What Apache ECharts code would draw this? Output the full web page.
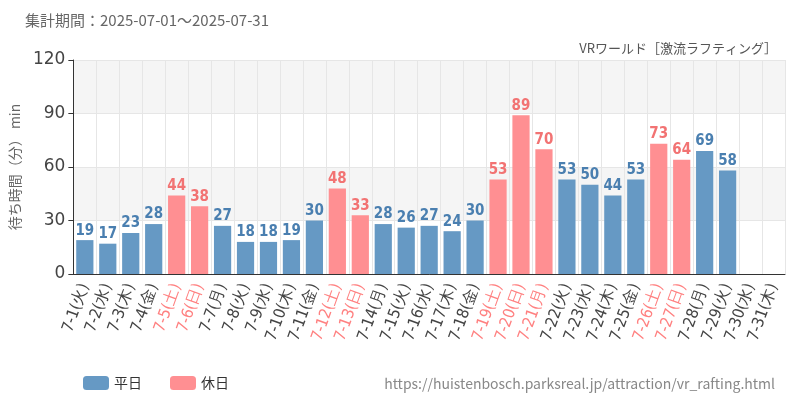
<!DOCTYPE html>
<html><head><meta charset="utf-8">
<script src="https://cdn.jsdelivr.net/npm/echarts@6/dist/echarts.min.js"></script>
<style>html,body{margin:0;background:#fff}#c{width:800px;height:400px}</style>
</head><body><div id="c"></div>
<script>
const days = ['7-1(火)','7-2(水)','7-3(木)','7-4(金)','7-5(土)','7-6(日)','7-7(月)','7-8(火)','7-9(水)','7-10(木)','7-11(金)','7-12(土)','7-13(日)','7-14(月)','7-15(火)','7-16(水)','7-17(木)','7-18(金)','7-19(土)','7-20(日)','7-21(月)','7-22(火)','7-23(水)','7-24(木)','7-25(金)','7-26(土)','7-27(日)','7-28(月)','7-29(火)','7-30(水)','7-31(木)'];
const waits = [19,17,23,28,44,38,27,18,18,19,30,48,33,28,26,27,24,30,53,89,70,53,50,44,53,73,64,69,58,null,null];
const holidays = ['7-5','7-6','7-12','7-13','7-19','7-20','7-21','7-26','7-27'];
const yTicks = [0,30,60,90,120];

const isHol = (d) => holidays.includes(d.split('(')[0]);
const weekday = waits.map((v, i) => (v != null && !isHol(days[i])) ? v : '-');
const holiday = waits.map((v, i) => (v != null && isHol(days[i])) ? v : '-');

const chart = echarts.init(document.getElementById('c'));
const font = 'DejaVu Sans Condensed';
const barLabel = (color) => ({ show: true, position: 'top', color, fontFamily: font, fontWeight: 'bold', fontSize: 15, distance: 2 });

chart.setOption({
    animation: false,
    textStyle: { fontFamily: 'Noto Sans CJK JP' },
    title: [
        { text: '集計期間：2025-07-01～2025-07-31', left: 20, top: 8, textStyle: { fontSize: 15, fontWeight: 'normal', color: '#666' } },
        { text: 'VRワールド［激流ラフティング］', right: 18, top: 37, textStyle: { fontSize: 13, fontWeight: 'normal', color: '#555' } },
        { text: 'https://huistenbosch.parksreal.jp/attraction/vr_rafting.html', right: 20, top: 372, textStyle: { fontSize: 14, fontWeight: 'normal', color: '#888' } }
    ],
    legend: {
        left: 78, top: 371, itemWidth: 26, itemHeight: 14, itemGap: 28,
        textStyle: { fontSize: 14, color: '#333' },
        data: ['平日', '休日']
    },
    grid: { left: 70, right: 15, top: 60, bottom: 126 },
    xAxis: {
        type: 'category', data: days,
        axisLine: { lineStyle: { color: '#333' } },
        axisTick: { alignWithLabel: true, lineStyle: { color: '#333' } },
        splitLine: { show: true, lineStyle: { color: '#e6e6e6' } },
        axisLabel: {
            interval: 0, rotate: 70, margin: 10,
            formatter: (d) => isHol(d) ? `{h|${d}}` : `{w|${d}}`,
            rich: { w: { color: '#444', fontFamily: font, fontSize: 16 }, h: { color: '#ff8080', fontFamily: font, fontSize: 16 } }
        }
    },
    yAxis: {
        type: 'value', min: yTicks[0], max: yTicks[yTicks.length - 1], interval: 30,
        name: '待ち時間（分） min', nameLocation: 'middle', nameGap: 46,
        nameTextStyle: { fontSize: 14, color: '#666' },
        axisLine: { show: true, lineStyle: { color: '#333' } },
        axisTick: { show: true, lineStyle: { color: '#333' } },
        axisLabel: { fontSize: 17, color: '#444', fontFamily: 'DejaVu Sans' },
        splitLine: { lineStyle: { color: '#e6e6e6' } },
        splitArea: { show: true, areaStyle: { color: ['#ffffff', '#f5f5f5'] } }
    },
    series: [
        { name: '平日', type: 'bar', data: weekday, barWidth: '75%', barGap: '-100%',
          itemStyle: { color: '#6699c4' }, label: barLabel('#4a7fb0') },
        { name: '休日', type: 'bar', data: holiday, barWidth: '75%',
          itemStyle: { color: '#ff8f92' }, label: barLabel('#f27373') }
    ]
});
</script></body></html>
